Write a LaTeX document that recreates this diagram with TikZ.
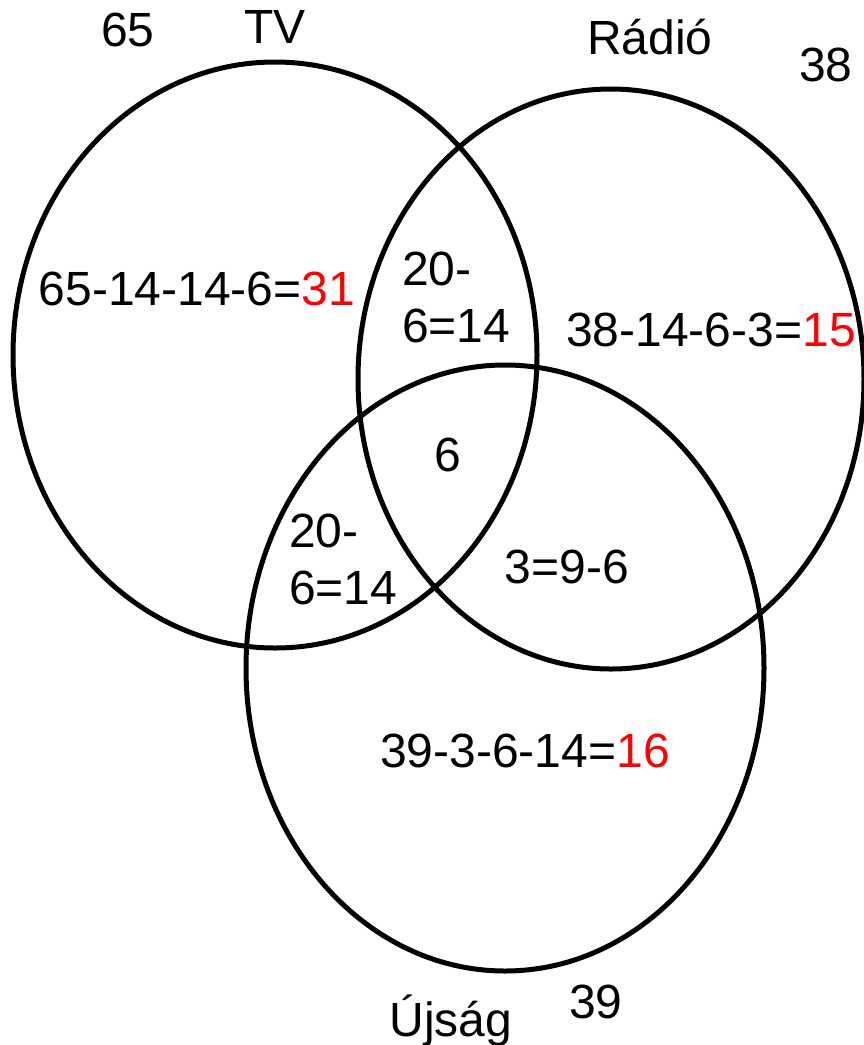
\documentclass[tikz,border=0pt]{standalone}
\usepackage{fontspec}
\setmainfont{Liberation Sans}
\begin{document}
\begin{tikzpicture}[x=1pt,y=-1pt,
  setline/.style={line width=5pt,draw=black},
  lbl/.style={inner sep=0pt,font=\fontsize{48}{57}\selectfont},
  multi/.style={lbl,align=left,anchor=north west}]
\useasboundingbox (0,0) rectangle (864,1045);
% sets
\draw[setline] (275,355) ellipse [x radius=262, y radius=293];
\draw[setline] (611,379) ellipse [x radius=253, y radius=290];
\draw[setline] (505,668) ellipse [x radius=259, y radius=303];
% outer labels
\node[lbl] (n65) at (128,30) {65};
\node[lbl] (tv) at (275,27) {TV};
\node[lbl,anchor=base] (radio) at (650,54) {Rádió};
\node[lbl] (n38) at (826,65) {38};
\node[lbl,anchor=base] (ujsag) at (451,1036) {Újság};
\node[lbl] (n39) at (596,1002) {39};
% regions
\node[lbl] (tvonly) at (197,289) {65-14-14-6=\textcolor{red}{31}};
\node[multi] (tvradio) at (402,252) {20-\\6=14};
\node[lbl] (radioonly) at (711,330) {38-14-6-3=\textcolor{red}{15}};
\node[lbl] (all) at (448,455) {6};
\node[multi] (tvujsag) at (289,514) {20-\\6=14};
\node[lbl] (radioujsag) at (567,567) {3=9-6};
\node[lbl] (ujsagonly) at (525,751) {39-3-6-14=\textcolor{red}{16}};
\end{tikzpicture}
\end{document}
